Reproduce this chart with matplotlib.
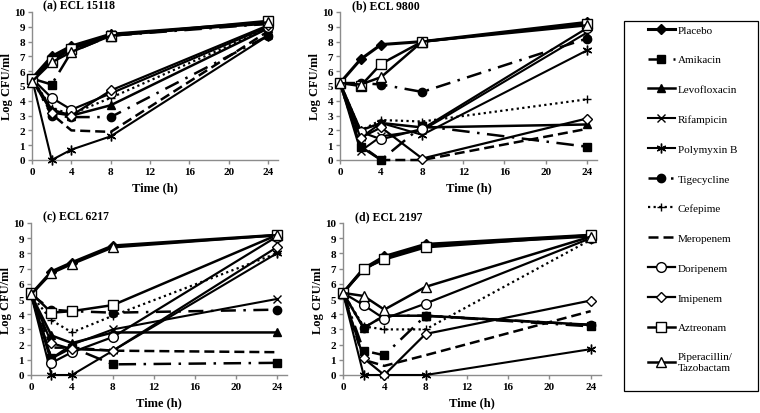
import numpy as np
import matplotlib.pyplot as plt
from matplotlib.lines import Line2D
from matplotlib.patches import Rectangle

plt.rcParams['font.family'] = ['Liberation Serif', 'DejaVu Serif']

times = [0, 2, 4, 8, 24]

drugs = ['Placebo', 'Amikacin', 'Levofloxacin', 'Rifampicin', 'Polymyxin B',
         'Tigecycline', 'Cefepime', 'Meropenem', 'Doripenem', 'Imipenem',
         'Aztreonam', 'Piperacillin/\nTazobactam']

panels = ['(a) ECL 15118', '(b) ECL 9800', '(c) ECL 6217', '(d) ECL 2197']

# log CFU/ml, one list per drug per strain
ecl15118 = {
    'Placebo':      [5.5, 7.0, 7.7, 8.5, 9.3],
    'Amikacin':     [5.5, 5.1, 7.3, 8.4, 9.2],
    'Levofloxacin': [5.5, 3.4, 3.0, 3.7, 8.9],
    'Rifampicin':   [5.5, 6.8, 7.6, 8.5, 9.2],
    'Polymyxin B':  [5.5, 0.0, 0.7, 1.6, 8.4],
    'Tigecycline':  [5.5, 3.0, 2.9, 2.9, 8.4],
    'Cefepime':     [5.5, 3.5, 3.1, 4.2, 8.9],
    'Meropenem':    [5.5, 3.1, 2.0, 1.9, 8.7],
    'Doripenem':    [5.5, 4.2, 3.4, 4.5, 9.0],
    'Imipenem':     [5.5, 3.2, 3.0, 4.7, 9.1],
    'Aztreonam':    [5.5, 6.7, 7.5, 8.4, 9.4],
    'Piperacillin/\nTazobactam': [5.3, 6.6, 7.3, 8.4, 9.3],
}
ecl9800 = {
    'Placebo':      [5.2, 6.8, 7.8, 8.0, 9.3],
    'Amikacin':     [5.2, 0.9, 0.0, 2.3, 0.9],
    'Levofloxacin': [5.2, 2.0, 2.5, 2.2, 2.4],
    'Rifampicin':   [5.2, 0.6, 1.6, 2.0, 8.6],
    'Polymyxin B':  [5.2, 1.5, 2.5, 1.7, 7.4],
    'Tigecycline':  [5.2, 5.2, 5.1, 4.6, 8.2],
    'Cefepime':     [5.2, 2.0, 2.7, 2.6, 4.1],
    'Meropenem':    [5.2, 1.0, 0.0, 0.0, 2.1],
    'Doripenem':    [5.2, 1.9, 1.4, 2.1, 8.9],
    'Imipenem':     [5.2, 1.5, 2.2, 0.1, 2.8],
    'Aztreonam':    [5.2, 5.0, 6.5, 8.0, 9.2],
    'Piperacillin/\nTazobactam': [5.2, 5.1, 5.6, 8.0, 9.1],
}
ecl6217 = {
    'Placebo':      [5.3, 6.8, 7.4, 8.5, 9.2],
    'Amikacin':     [5.3, 1.1, 1.8, 0.7, 0.8],
    'Levofloxacin': [5.3, 2.6, 2.1, 2.8, 2.8],
    'Rifampicin':   [5.3, 1.1, 2.0, 3.0, 5.0],
    'Polymyxin B':  [5.3, 0.0, 0.0, 1.6, 8.0],
    'Tigecycline':  [5.3, 4.3, 4.2, 4.1, 4.3],
    'Cefepime':     [5.3, 3.6, 2.8, 3.9, 8.0],
    'Meropenem':    [5.3, 1.8, 1.8, 1.6, 1.5],
    'Doripenem':    [5.3, 0.8, 1.5, 2.5, 9.1],
    'Imipenem':     [5.3, 2.1, 1.7, 1.6, 8.4],
    'Aztreonam':    [5.4, 4.1, 4.2, 4.6, 9.2],
    'Piperacillin/\nTazobactam': [5.3, 6.7, 7.3, 8.4, 9.2],
}
ecl2197 = {
    'Placebo':      [5.4, 7.0, 7.8, 8.6, 9.2],
    'Amikacin':     [5.4, 1.6, 1.3, 3.9, 3.2],
    'Levofloxacin': [5.4, 3.1, 3.9, 3.9, 3.3],
    'Rifampicin':   [5.4, 6.9, 7.7, 8.5, 9.1],
    'Polymyxin B':  [5.4, 0.0, 0.0, 0.0, 1.7],
    'Tigecycline':  [5.4, 3.1, 3.9, 3.9, 3.3],
    'Cefepime':     [5.4, 3.2, 3.0, 3.0, 8.9],
    'Meropenem':    [5.4, 1.0, 0.6, 1.3, 4.2],
    'Doripenem':    [5.4, 4.6, 3.7, 4.7, 9.0],
    'Imipenem':     [5.4, 1.1, 0.0, 2.7, 4.9],
    'Aztreonam':    [5.4, 7.0, 7.6, 8.4, 9.2],
    'Piperacillin/\nTazobactam': [5.4, 5.2, 4.3, 5.8, 9.1],
}

strains = [ecl15118, ecl9800, ecl6217, ecl2197]

# line style per drug
asterisk = (6, 2, 0)
styles = {
    'Placebo':      dict(ls='-', marker='D', mfc='black', ms=5, lw=2.2),
    'Amikacin':     dict(ls=(0, (7, 3, 1, 3)), marker='s', mfc='black', ms=6, lw=1.8),
    'Levofloxacin': dict(ls='-', marker='^', mfc='black', ms=6, lw=1.8),
    'Rifampicin':   dict(ls='-', marker='x', mfc='black', ms=6, lw=1.5),
    'Polymyxin B':  dict(ls='-', marker=asterisk, mfc='black', ms=7, lw=1.5),
    'Tigecycline':  dict(ls=(0, (6, 3, 1, 3)), marker='o', mfc='black', ms=6, lw=1.8),
    'Cefepime':     dict(ls=(0, (1, 1.5)), marker='+', mfc='black', ms=6, lw=1.6),
    'Meropenem':    dict(ls=(0, (4, 2)), marker='None', mfc='black', ms=6, lw=1.8),
    'Doripenem':    dict(ls='-', marker='o', mfc='white', ms=7, lw=1.6),
    'Imipenem':     dict(ls='-', marker='D', mfc='white', ms=5, lw=1.6),
    'Aztreonam':    dict(ls='-', marker='s', mfc='white', ms=7, lw=1.8),
    'Piperacillin/\nTazobactam': dict(ls='-', marker='^', mfc='white', ms=7, lw=1.8),
}

W, H = 760, 414
fig = plt.figure(figsize=(7.6, 4.14), dpi=100)

# axes boxes in pixels: left, top, width, height
boxes = [(32, 13, 246, 148), (340, 13, 257, 148),
         (31, 224, 256, 152), (343, 224, 258, 152)]

for box, title, data in zip(boxes, panels, strains):
    l, t, w, h = box
    ax = fig.add_axes([l / W, 1 - (t + h) / H, w / W, h / H])
    for d in drugs:
        st = styles[d]
        ax.plot(times, data[d], color='black', linestyle=st['ls'], lw=st['lw'],
                marker=st['marker'], markersize=st['ms'],
                markerfacecolor=st['mfc'], markeredgecolor='black',
                markeredgewidth=1.0, clip_on=False, zorder=3)
    ax.set_xlim(0, 25)
    ax.set_ylim(0, 10)
    ax.set_xticks(range(0, 25, 4))
    ax.set_yticks(range(0, 11))
    for s in ['top', 'right']:
        ax.spines[s].set_visible(False)
    for s in ['left', 'bottom']:
        ax.spines[s].set_color('#8c8c8c')
        ax.spines[s].set_linewidth(1.0)
    ax.tick_params(colors='#8c8c8c', length=3, width=1.0, labelcolor='black',
                   labelsize=8, pad=2)
    for lab in ax.get_xticklabels() + ax.get_yticklabels():
        lab.set_fontweight('bold')
    ax.set_xlabel('Time (h)', fontsize=9, fontweight='bold', labelpad=4)
    ax.set_ylabel('Log CFU/ml', fontsize=9, fontweight='bold', labelpad=1)
    ax.text(0.045, 1.045, title, transform=ax.transAxes, fontsize=8.5,
            fontweight='bold', va='center', ha='left')

# legend box drawn separately so its size matches the original
fig.patches.append(Rectangle((624 / W, 1 - 392 / H), 134 / W, 370 / H,
                             transform=fig.transFigure, fill=False,
                             edgecolor='black', linewidth=0.9))

handles = []
for d in drugs:
    st = styles[d]
    handles.append(Line2D([], [], color='black', linestyle=st['ls'], lw=st['lw'],
                          marker=st['marker'], markersize=st['ms'],
                          markerfacecolor=st['mfc'], markeredgecolor='black'))

fig.legend(handles, drugs, loc='upper left',
           bbox_to_anchor=(644 / W, 1 - 22 / H), borderaxespad=0,
           fontsize=8, labelspacing=1.8, handlelength=2.4,
           handletextpad=0.3, borderpad=0.35, frameon=False)

fig.savefig('out.png', dpi=100)
